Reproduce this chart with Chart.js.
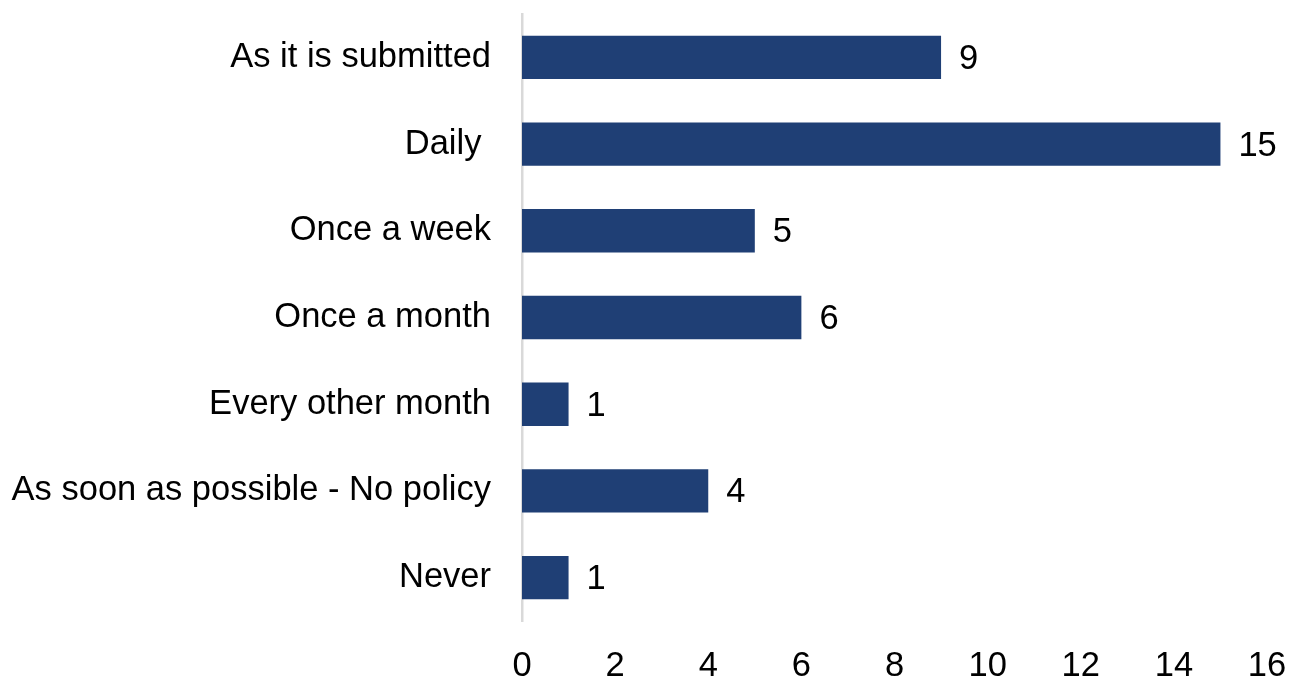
<!DOCTYPE html>
<html>
<head>
<meta charset="utf-8">
<script src="https://cdn.jsdelivr.net/npm/chart.js@4"></script>
<style>
  html, body { margin: 0; padding: 0; background: #ffffff; }
  #wrap { width: 1290px; height: 677px; }
</style>
</head>
<body>
<div id="wrap"><canvas id="myChart"></canvas></div>
<script>
const categories = [
  'As it is submitted',
  'Daily ',
  'Once a week',
  'Once a month',
  'Every other month',
  'As soon as possible - No policy',
  'Never',
];

const counts = [9, 15, 5, 6, 1, 4, 1];

const xTicks = [0, 2, 4, 6, 8, 10, 12, 14, 16];

const FONT = { family: '"Liberation Sans", Arial, sans-serif', size: 34.5 };

// value labels just past the end of each bar
const valueLabels = {
  id: 'valueLabels',
  afterDatasetsDraw(chart) {
    const ctx = chart.ctx;
    const meta = chart.getDatasetMeta(0);
    ctx.save();
    ctx.font = FONT.size + 'px ' + FONT.family;
    ctx.fillStyle = '#000000';
    ctx.textAlign = 'left';
    ctx.textBaseline = 'middle';
    meta.data.forEach((bar, i) => {
      ctx.fillText(String(chart.data.datasets[0].data[i]), bar.x + 18, bar.y + 2);
    });
    ctx.restore();
  }
};

// DATA
const data = {
  labels: categories,
  datasets: [{
    label: 'Responses',
    data: counts,
    backgroundColor: '#1F3F75',
    borderWidth: 0,
    barPercentage: 0.5,
    categoryPercentage: 1,
  }]
};

// CONFIG
const config = {
  type: 'bar',
  data,
  options: {
    indexAxis: 'y',
    responsive: true,
    maintainAspectRatio: false,
    animation: false,
    layout: {
      padding: { top: 14, right: 23, bottom: 0, left: 0 }
    },
    plugins: {
      legend: { display: false },
      tooltip: { enabled: false },
    },
    scales: {
      x: {
        min: 0,
        max: 16,
        afterBuildTicks: (scale) => {
          scale.ticks = xTicks.map(v => ({ value: v }));
        },
        // fixed axis size, no extra room for the end labels
        afterFit: (scale) => {
          scale.height = 56;
          scale.paddingLeft = 0;
          scale.paddingRight = 0;
        },
        grid: { display: false, drawTicks: false },
        border: { display: false },
        ticks: {
          color: '#000000',
          font: FONT,
          padding: 25,
          maxRotation: 0,
        },
      },
      y: {
        afterFit: (scale) => {
          scale.width = 522;
          scale.paddingTop = 0;
          scale.paddingBottom = 0;
        },
        grid: { display: false, drawTicks: false },
        border: { display: true, color: '#d9d9d9', width: 2.5 },
        ticks: {
          color: '#000000',
          font: FONT,
          padding: 31,
        },
      },
    },
  },
  plugins: [valueLabels],
};

// CHART
const myChart = new Chart(
  document.getElementById('myChart'),
  config
);
</script>
</body>
</html>
